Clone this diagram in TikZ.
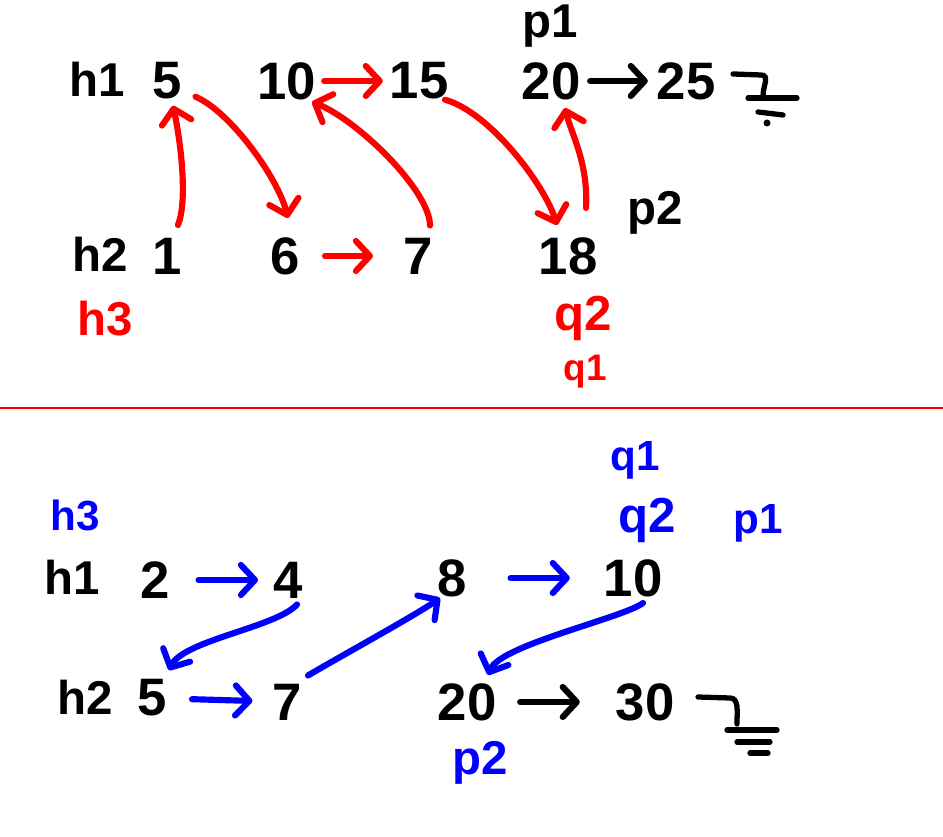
\documentclass[tikz,border=0pt]{standalone}
\usepackage{xcolor}
\usepackage{fontspec}
\setmainfont{Liberation Sans}
\usetikzlibrary{arrows.meta}

\tikzset{
  num/.style={inner sep=0pt, font=\bfseries\fontsize{30}{32}\selectfont},
  lab/.style={inner sep=0pt, font=\bfseries\fontsize{27}{29}\selectfont},
  arr/.style={line width=3.5pt, line cap=round, -{Straight Barb[length=2.8mm,width=6mm,round]}},
  gnd/.style={line width=3pt, line cap=round}
}

\begin{document}
\begin{tikzpicture}
\useasboundingbox (0,0) rectangle (18.86,16.72);

% Top: row h1
\node[lab] (h1top) at (1.94,15.14) {h1};
\node[num] (a5) at (3.34,15.10) {5};
\node[num] (a10) at (5.74,15.10) {10};
\node[num] (a15) at (8.38,15.10) {15};
\node[num] (a20) at (11.02,15.10) {20};
\node[num] (a25) at (13.72,15.10) {25};
\node[lab] (p1top) at (11.0,16.2) {p1};

% Top: row h2
\node[lab] (h2top) at (2.0,11.64) {h2};
\node[num] (b1) at (3.34,11.60) {1};
\node[num] (b6) at (5.70,11.60) {6};
\node[num] (b7) at (8.36,11.60) {7};
\node[num] (b18) at (11.36,11.60) {18};
\node[lab] (p2top) at (13.1,12.46) {p2};

% Top: red marks
\node[lab, red] (h3top) at (2.1,10.34) {h3};
\node[lab, red, font=\bfseries\fontsize{28}{30}\selectfont] (q2top) at (11.66,10.36) {q2};
\node[lab, red, font=\bfseries\fontsize{21}{23}\selectfont] (q1top) at (11.7,9.28) {q1};

% Top: links
\draw[arr, red, shorten <=0.15cm, shorten >=0.13cm] (a10) -- (a15);
\draw[arr, shorten <=0.19cm, shorten >=0.17cm] (a20) -- (a25);
\draw[arr, red, shorten <=0.5cm, shorten >=0.6cm] (b6) -- (b7);
\draw[arr, red] ([shift={(0.22,0.25)}]b1.north) .. controls +(0.2,0.5) and +(0.15,-0.7) .. ([shift={(0.12,-0.12)}]a5.south);
\draw[arr, red] ([shift={(0.27,0.06)}]a5.south east) .. controls +(0.7,-0.3) and +(-0.2,0.8) .. ([shift={(0.06,0.38)}]b6.north);
\draw[arr, red] ([shift={(0.24,0.24)}]b7.north) .. controls +(0,0.7) and +(0.9,-0.35) .. ([shift={(0.5,-0.04)}]a10.south);
\draw[arr, red] ([shift={(0.52,0)}]a15.south) .. controls +(0.9,-0.25) and +(-0.25,0.8) .. ([shift={(-0.22,0.24)}]b18.north);
\draw[arr, red] ([shift={(0.36,0.58)}]b18.north) .. controls +(0.05,0.9) and +(0.12,-0.5) .. ([shift={(0.28,-0.16)}]a20.south);

% Top: ground
\draw[gnd] (14.66,15.24) -- (15.22,15.22) .. controls (15.4,15.22) and (15.26,15.0) .. (15.26,14.8);
\draw[gnd] (14.96,14.76) -- (15.94,14.76);
\draw[gnd] (15.16,14.48) -- (15.66,14.42);
\fill (15.34,14.26) circle (0.07);

% Separator
\draw[red, line width=0.6pt] (0,8.56) -- (18.86,8.56);

% Bottom: row h1
\node[lab, blue, font=\bfseries\fontsize{24}{26}\selectfont] (h3bot) at (1.5,6.42) {h3};
\node[lab] (h1bot) at (1.44,5.18) {h1};
\node[num] (c2) at (3.1,5.12) {2};
\node[num] (c4) at (5.76,5.12) {4};
\node[num] (c8) at (9.04,5.16) {8};
\node[num] (c10) at (12.66,5.16) {10};
\node[lab, blue, font=\bfseries\fontsize{24}{26}\selectfont] (q1bot) at (12.7,7.52) {q1};
\node[lab, blue, font=\bfseries\fontsize{28}{30}\selectfont] (q2bot) at (12.94,6.32) {q2};
\node[lab, blue, font=\bfseries\fontsize{24}{26}\selectfont] (p1bot) at (15.16,6.26) {p1};

% Bottom: row h2
\node[lab] (h2bot) at (1.7,2.78) {h2};
\node[num] (d5) at (3.04,2.76) {5};
\node[num] (d7) at (5.74,2.68) {7};
\node[num] (d20) at (9.34,2.68) {20};
\node[num] (d30) at (12.9,2.68) {30};
\node[lab, blue] (p2bot) at (9.6,1.46) {p2};

% Bottom: links
\draw[arr, blue, shorten <=0.57cm, shorten >=0.3cm] (c2) -- (c4);
\draw[arr, blue, shorten <=0.87cm, shorten >=0.67cm] (c8) -- (c10);
\draw[arr, blue, shorten <=0.5cm, shorten >=0.39cm] (d5) -- (d7);
\draw[arr, shorten <=0.47cm, shorten >=0.71cm] (d20) -- (d30);
\draw[arr, blue] ([shift={(0.18,-0.12)}]c4.south) .. controls +(-0.4,-0.45) and +(0.3,0.6) .. ([shift={(0.34,0.18)}]d5.north);
\draw[arr, blue] ([shift={(0.42,0.16)}]d7.north) .. controls +(0.5,0.3) and +(-0.5,-0.35) .. ([shift={(-0.24,-0.02)}]c8.south);
\draw[arr, blue] ([shift={(0.2,-0.12)}]c10.south) .. controls +(-0.4,-0.3) and +(0.25,0.6) .. ([shift={(0.42,0.16)}]d20.north);

% Bottom: ground
\draw[gnd] (13.96,2.78) -- (14.6,2.76) .. controls (14.78,2.76) and (14.74,2.5) .. (14.74,2.24);
\draw[gnd] (14.54,2.12) -- (15.54,2.12);
\draw[gnd] (14.74,1.88) -- (15.4,1.88);
\draw[gnd] (15.0,1.66) -- (15.36,1.66);
\end{tikzpicture}
\end{document}
